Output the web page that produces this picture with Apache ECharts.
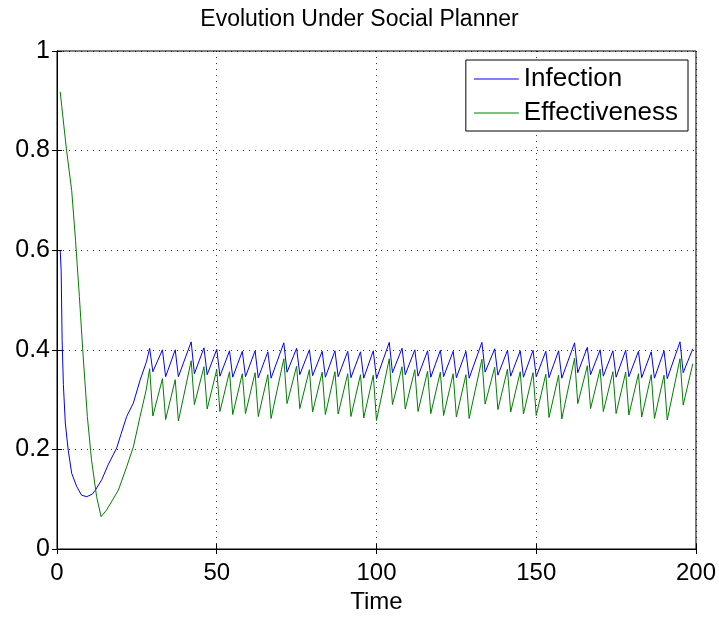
<!DOCTYPE html>
<html>
<head>
<meta charset="utf-8">
<script src="https://cdn.jsdelivr.net/npm/echarts@6/dist/echarts.min.js"></script>
<style>
  html, body { margin: 0; padding: 0; background: #fff; }
  #chart { width: 719px; height: 619px; }
</style>
</head>
<body>
<div id="chart"></div>
<script>
var chart = echarts.init(document.getElementById('chart'));

// early transient
var infectionStart = [
  [1, 0.600], [1.3, 0.560], [1.6, 0.420], [2, 0.330], [2.6, 0.253], [3.5, 0.199],
  [4.6, 0.152], [6.2, 0.125], [7.7, 0.108], [9.3, 0.105], [11, 0.110], [12, 0.118],
  [14, 0.139], [16, 0.169], [18.7, 0.203], [20, 0.230], [21.8, 0.266], [23.9, 0.293],
  [26, 0.339], [28, 0.376]
];
var effectivenessStart = [
  [1, 0.918], [1.5, 0.888], [3, 0.800], [4.6, 0.720], [5.8, 0.620], [7, 0.507],
  [8.2, 0.386], [9.5, 0.266], [10.8, 0.179], [12.4, 0.105], [13.8, 0.065],
  [15.5, 0.078], [19.2, 0.118], [21.8, 0.165], [23.9, 0.205], [26, 0.266], [27.9, 0.319]
];

// sawtooth part: peak times and the step after each peak
var cycleTimes = [
  29, 30, 33, 34, 37, 38, 42, 43, 46, 47, 50, 51, 54, 55, 58, 59, 62, 63, 66, 67,
  71, 72, 75, 76, 79, 80, 83, 84, 87, 88, 91, 92, 95, 96, 99, 100,
  104, 105, 108, 109, 112, 113, 116, 117, 120, 121, 124, 125, 128, 129,
  133, 134, 137, 138, 141, 142, 145, 146, 149, 150, 153, 154, 157, 158,
  162, 163, 166, 167, 170, 171, 174, 175, 178, 179, 182, 183, 186, 187, 190, 191,
  195, 196, 199
];
var infectionCycle = [
  0.403, 0.356, 0.400, 0.346, 0.400, 0.346, 0.416, 0.352, 0.404, 0.350, 0.401, 0.347, 0.398, 0.345, 0.397, 0.346, 0.398, 0.344, 0.396, 0.343,
  0.414, 0.355, 0.403, 0.350, 0.400, 0.348, 0.397, 0.345, 0.398, 0.346, 0.397, 0.344, 0.396, 0.343, 0.398, 0.342,
  0.415, 0.354, 0.403, 0.350, 0.400, 0.347, 0.398, 0.345, 0.399, 0.346, 0.397, 0.344, 0.397, 0.343,
  0.415, 0.355, 0.402, 0.349, 0.399, 0.347, 0.398, 0.345, 0.399, 0.346, 0.397, 0.344, 0.398, 0.343,
  0.414, 0.354, 0.405, 0.350, 0.400, 0.347, 0.398, 0.345, 0.399, 0.346, 0.397, 0.344, 0.396, 0.343, 0.398, 0.342,
  0.416, 0.354, 0.402
];
var effectivenessCycle = [
  0.362, 0.267, 0.342, 0.260, 0.340, 0.257, 0.378, 0.290, 0.366, 0.281, 0.360, 0.276, 0.356, 0.270, 0.352, 0.272, 0.354, 0.266, 0.350, 0.262,
  0.382, 0.292, 0.367, 0.282, 0.360, 0.275, 0.355, 0.270, 0.356, 0.271, 0.352, 0.266, 0.350, 0.263, 0.349, 0.258,
  0.382, 0.290, 0.366, 0.281, 0.360, 0.276, 0.357, 0.272, 0.355, 0.268, 0.352, 0.265, 0.350, 0.262,
  0.381, 0.291, 0.365, 0.280, 0.361, 0.275, 0.356, 0.271, 0.354, 0.268, 0.351, 0.264, 0.349, 0.261,
  0.383, 0.292, 0.368, 0.282, 0.361, 0.276, 0.356, 0.272, 0.355, 0.269, 0.352, 0.265, 0.350, 0.262, 0.349, 0.259,
  0.382, 0.289, 0.372
];

var xTicks = { min: 0, max: 200, interval: 50 };
var yTicks = { min: 0, max: 1, interval: 0.2 };

function join(start, times, vals) {
  var out = start.slice();
  times.forEach(function (t, i) { out.push([t, vals[i]]); });
  return out;
}

var font = 'Liberation Sans';
var dotted = { color: '#000', width: 1, type: [1, 5], opacity: 0.8 };

var option = {
  animation: false,
  backgroundColor: '#fff',
  title: {
    text: 'Evolution Under Social Planner',
    left: 'center',
    top: 3,
    textStyle: { fontFamily: font, fontSize: 23, fontWeight: 'normal', color: '#000' }
  },
  legend: {
    orient: 'vertical',
    right: 31,
    top: 60,
    padding: [6, 10, 5, 8],
    itemGap: 8,
    itemWidth: 45,
    itemHeight: 1,
    icon: 'rect',
    borderColor: '#000',
    borderWidth: 1,
    backgroundColor: '#fff',
    textStyle: { fontFamily: font, fontSize: 26, color: '#000' },
    data: ['Infection', 'Effectiveness']
  },
  grid: {
    left: 57, right: 23, top: 51, bottom: 70,
    show: true, borderColor: '#000', borderWidth: 1
  },
  xAxis: [{
    type: 'value',
    min: xTicks.min, max: xTicks.max, interval: xTicks.interval,
    name: 'Time',
    nameLocation: 'middle',
    nameGap: 40,
    nameTextStyle: { fontFamily: font, fontSize: 24, color: '#000' },
    axisLine: { lineStyle: { color: '#000' } },
    axisTick: { inside: true, length: 5, lineStyle: { color: '#000' } },
    axisLabel: { fontFamily: font, fontSize: 24, color: '#000', margin: 12 },
    splitLine: { show: true, lineStyle: dotted }
  }, {
    type: 'value', position: 'top',
    min: xTicks.min, max: xTicks.max, interval: xTicks.interval,
    axisLine: { lineStyle: { color: '#000' } },
    axisTick: { inside: true, length: 5, lineStyle: { color: '#000' } },
    axisLabel: { show: false },
    splitLine: { show: false }
  }],
  yAxis: [{
    type: 'value',
    min: yTicks.min, max: yTicks.max, interval: yTicks.interval,
    axisLine: { show: true, lineStyle: { color: '#000' } },
    axisTick: { show: true, inside: true, length: 5, lineStyle: { color: '#000' } },
    axisLabel: { fontFamily: font, fontSize: 25, color: '#000', margin: 7 },
    splitLine: { show: true, lineStyle: dotted }
  }, {
    type: 'value', position: 'right',
    min: yTicks.min, max: yTicks.max, interval: yTicks.interval,
    axisLine: { show: true, lineStyle: { color: '#000' } },
    axisTick: { show: true, inside: true, length: 5, lineStyle: { color: '#000' } },
    axisLabel: { show: false },
    splitLine: { show: false }
  }],
  series: [{
    name: 'Infection',
    type: 'line',
    data: join(infectionStart, cycleTimes, infectionCycle),
    symbol: 'none',
    color: '#0000ff',
    lineStyle: { width: 1, color: '#0000ff' }
  }, {
    name: 'Effectiveness',
    type: 'line',
    data: join(effectivenessStart, cycleTimes, effectivenessCycle),
    symbol: 'none',
    color: '#008000',
    lineStyle: { width: 1, color: '#008000' }
  }]
};

chart.setOption(option);
</script>
</body>
</html>
